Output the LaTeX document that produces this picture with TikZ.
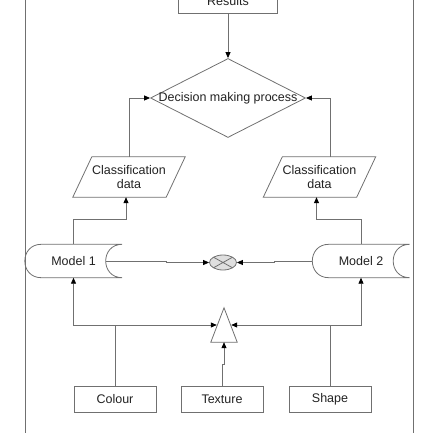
\documentclass[tikz,border=0pt]{standalone}
\usepackage{fontspec}
\setmainfont{Liberation Sans}
\usetikzlibrary{shapes.geometric,arrows.meta}
\definecolor{linegray}{HTML}{707070}
\definecolor{textgray}{HTML}{222222}
\begin{document}
\begin{tikzpicture}[x=1pt, y=-1pt,
		line/.style = {draw=linegray, line width=0.8pt},
		arr/.style  = {line, -{Triangle[length=6pt, width=5pt, color=black, fill=black]}},
		base/.style = {inner sep=0pt, text=textgray,
		               font=\fontsize{12.5}{14}\selectfont},
		pbox/.style = {base, line, shape = rectangle,
		               minimum width = 82pt, minimum height = 26pt},
		pdec/.style = {base, line, shape = diamond,
		               minimum width = 155pt, minimum height = 79pt},
		pdat/.style = {base, align = center,
		               minimum width = 112pt, minimum height = 40pt},
		pmod/.style = {base, minimum width = 97pt, minimum height = 33pt},
		pjoin/.style = {line, shape = ellipse, fill = gray!25,
		               minimum width = 27pt, minimum height = 15pt,
		               path picture = {\draw[linegray]
		                 (path picture bounding box.north west) -- (path picture bounding box.south east)
		                 (path picture bounding box.south west) -- (path picture bounding box.north east);}},
		pmerge/.style = {inner sep=0pt, minimum width = 26pt, minimum height = 34pt}]
	\useasboundingbox (0,0) rectangle (433,433);
	% outer frame
	\draw[line] (25,-20) rectangle (413,453);

	\node[pbox, minimum width = 99pt, minimum height = 24pt] (results) at (228,1.5) {Results};
	\node[pdec] (decide) at (228,98) {\makebox[0pt]{Decision making process}};
	\node[pdat] (cdata1) at (129,177) {Classification\\data};
	\node[pdat] (cdata2) at (319.5,177) {Classification\\data};
	\node[pmod] (model1) at (73.5,261) {Model 1};
	\node[pmod] (model2) at (361,261) {Model 2};
	\node[pjoin] (join) at (223,262.5) {};
	\node[pmerge] (merge) at (224,325) {};
	\node[pbox] (colour) at (115,399) {Colour};
	\node[pbox] (texture) at (222,399) {Texture};
	\node[pbox] (shp) at (330,399) {Shape};

	% data and stored data outlines
	\foreach \d in {cdata1,cdata2}
		\draw[line] (\d.south west) -- ([xshift=19pt]\d.north west) -- (\d.north east)
			-- ([xshift=-19pt]\d.south east) -- cycle;
	\foreach \m in {model1,model2}
		\draw[line] ([xshift=16.5pt]\m.north west) -- (\m.north east)
			.. controls ([xshift=-22pt]\m.north east) and ([xshift=-22pt]\m.south east) .. (\m.south east)
			-- ([xshift=16.5pt]\m.south west)
			.. controls ([xshift=-5.5pt]\m.south west) and ([xshift=-5.5pt]\m.north west) .. cycle;
	\draw[line] (merge.south west) -- (merge.north) -- (merge.south east) -- cycle;

	\draw[arr] (results.south) -- (decide.north);
	\draw[arr] (cdata1.north) |- (decide.west);
	\draw[arr] ([xshift=10.5pt]cdata2.north) |- (decide.east);
	\draw[arr] (model1.north) -- ++(0,-25) -| ([xshift=-3pt]cdata1.south);
	\draw[arr] (model2.north) -- ++(0,-25) -| ([xshift=-3pt]cdata2.south);
	\draw[arr] ([xshift=-16.5pt]model1.east) -- ++(60.5,0) |- (join.west);
	\draw[arr] (model2.west) -- ++(-38,0) |- (join.east);
	\draw[arr] (colour.north) |- ([xshift=6pt]merge.west);
	\draw[arr] (colour.north) -- (colour.north |- merge.west) -| (model1.south);
	\draw[arr] (shp.north) |- ([xshift=-6pt]merge.east);
	\draw[arr] (shp.north) -- (shp.north |- merge.east) -| (model2.south);
	\draw[arr] (texture.north) -- ++(0,-21) -| (merge.south);
\end{tikzpicture}
\end{document}
